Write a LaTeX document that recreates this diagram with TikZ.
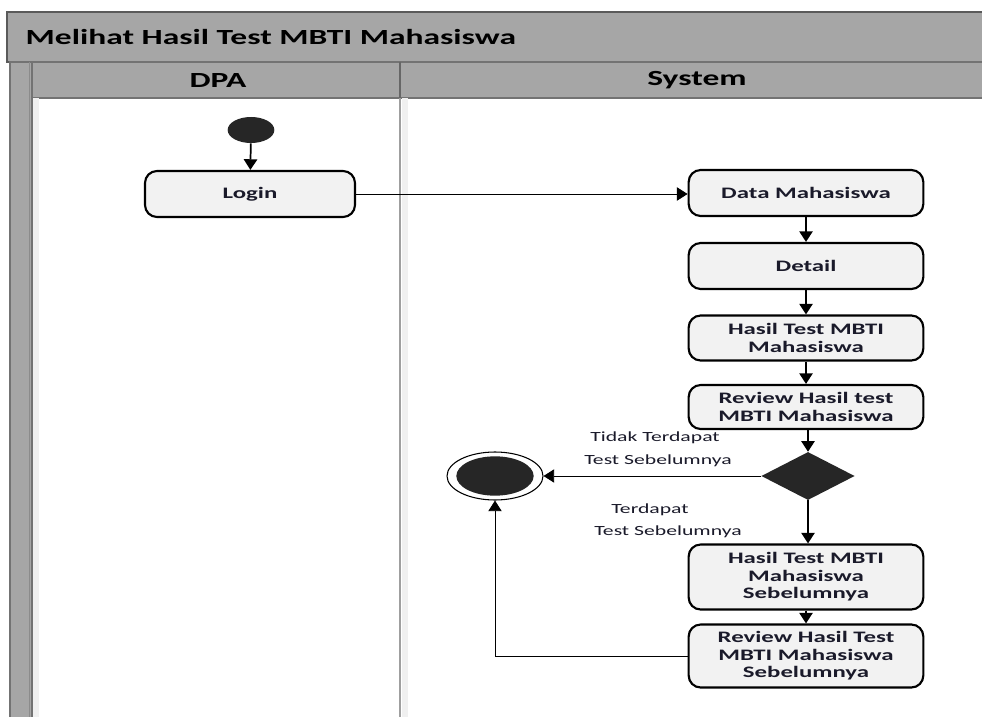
\documentclass[tikz,border=0pt]{standalone}
\usepackage{fontspec}
\setmainfont{Carlito}
\newfontfamily\widefont[FakeStretch=1.55]{Carlito}
\usetikzlibrary{shapes.geometric,arrows.meta}
\definecolor{barfill}{HTML}{A6A6A6}
\definecolor{barline}{HTML}{5A5A5A}
\definecolor{boxfill}{HTML}{F2F2F2}
\definecolor{dotfill}{HTML}{262626}
\definecolor{inkc}{HTML}{1A1A2A}
\tikzset{
  actbox/.style={draw=black, line width=1.6pt, fill=boxfill, rounded corners=9pt,
    minimum width=176pt, inner sep=1pt, align=center, text=inkc,
    font=\widefont\bfseries\fontsize{12}{13.2}\selectfont},
  flow/.style={draw=black, line width=1.3pt, -{Triangle[width=10pt,length=8pt]}},
  thinflow/.style={draw=black, line width=0.7pt, -{Triangle[width=10pt,length=8pt]}},
  guard/.style={text=inkc, font=\widefont\fontsize{10.5}{12}\selectfont},
  headtext/.style={text=black, font=\widefont\bfseries\fontsize{16.2}{18}\selectfont},
}
\begin{document}
\begin{tikzpicture}[x=0.75pt,y=-0.75pt]
\useasboundingbox (0,0) rectangle (982,717);
\fill[white] (0,0) rectangle (982,717);

% swimlane frame
\draw[fill=barfill, draw=barline, line width=1pt] (7,12) rectangle (995,62);
\draw[fill=barfill, draw=gray!90!black, line width=0.8pt] (10,62) rectangle (32,730);
\draw[barline!70, line width=0.6pt] (29,62) -- (29,730);
\draw[fill=barfill, draw=gray!90!black, line width=1pt] (32,62) rectangle (995,98);
\draw[gray!80!black, line width=1pt] (400,62) -- (400,98);
\fill[gray!12] (33,98.5) rectangle (39,730);
\fill[gray!12] (402,98.5) rectangle (408,730);
\draw[gray!75, line width=2.2pt] (400,98) -- (400,730);

\node[headtext, anchor=west] (title) at (21,37) {Melihat Hasil Test MBTI Mahasiswa};
\node[headtext] (lanea) at (218,80) {DPA};
\node[headtext] (laneb) at (697,80) {System};

% activity nodes
\node[ellipse, fill=dotfill, minimum width=35pt, minimum height=19.5pt, inner sep=0pt] (start) at (251,130) {};
\node[actbox, minimum width=157.5pt, minimum height=34.5pt] (login) at (250,194) {Login};
\node[actbox, minimum height=34.5pt] (data) at (806,193) {Data Mahasiswa};
\node[actbox, minimum height=34.5pt] (detail) at (806,266) {Detail};
\node[actbox, minimum height=33.75pt] (hasil) at (806,338) {Hasil Test MBTI\\Mahasiswa};
\node[actbox, minimum height=33pt] (review) at (806,407) {Review Hasil test\\MBTI Mahasiswa};
\node[diamond, fill=dotfill, minimum width=70pt, minimum height=36pt, inner sep=0pt] (dec) at (808,476) {};
\node[actbox, minimum height=48.75pt] (prev) at (806,577) {Hasil Test MBTI\\Mahasiswa\\Sebelumnya};
\node[actbox, minimum height=47.25pt] (prevrev) at (806,656) {Review Hasil Test\\MBTI Mahasiswa\\Sebelumnya};
\node[ellipse, draw=black, line width=0.8pt, fill=white, minimum width=72pt, minimum height=36pt, inner sep=0pt] (end) at (495,476) {};
\node[ellipse, fill=dotfill, minimum width=58pt, minimum height=29.5pt, inner sep=0pt] (endin) at (495,476) {};

% guard labels
\node[guard] (g1a) at (655,438) {Tidak Terdapat};
\node[guard] (g1b) at (658,461) {Test Sebelumnya};
\node[guard] (g2a) at (650,510) {Terdapat};
\node[guard] (g2b) at (668,532) {Test Sebelumnya};

% transitions
\draw[flow] (start) -- (login);
\draw[thinflow] (login.east) -- (login.east -| data.west);
\draw[flow] (data) -- (detail);
\draw[flow] (detail) -- (hasil);
\draw[flow] (hasil) -- (review);
\draw[flow] (review.south -| dec.north) -- (dec.north);
\draw[flow] (dec.south) -- (prev.north -| dec.south);
\draw[flow] (prev) -- (prevrev);
\draw[thinflow] (dec.west) -- (end.east);
\draw[thinflow] (prevrev.west) -| (end.south);
\end{tikzpicture}
\end{document}
